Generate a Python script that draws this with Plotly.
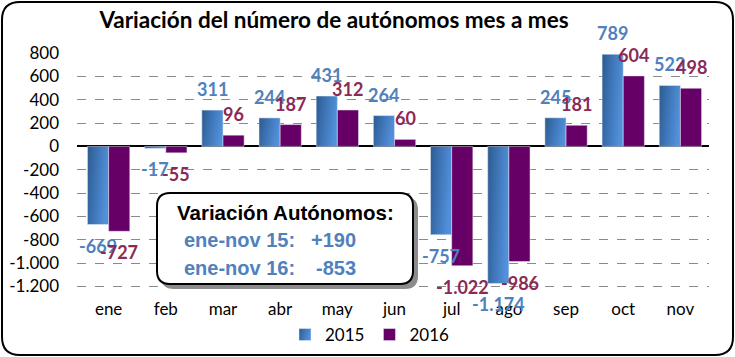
import plotly.graph_objects as go

months = ["ene", "feb", "mar", "abr", "may", "jun", "jul", "ago", "sep", "oct", "nov"]
v2015 = [-669, -17, 311, 244, 431, 264, -757, -1174, 245, 789, 522]
v2016 = [-727, -55, 96, 187, 312, 60, -1022, -986, 181, 604, 498]
y_ticks = [800, 600, 400, 200, 0, -200, -400, -600, -800, -1000, -1200]

def fmt(v):
    s = f"{abs(v):,}".replace(",", ".")
    return ("-" if v < 0 else "") + s

W, H = 735, 357
L, R, T, B = 77, 26, 53, 60
PW, PH = W - L - R, H - T - B

def px(x):
    return (x - L) / PW

def py(y):
    return (H - B - y) / PH

def rrect(x0, y0, x1, y1, r):
    pts = [
        f"M {px(x0 + r)} {py(y0)}",
        f"L {px(x1 - r)} {py(y0)}",
        f"Q {px(x1)} {py(y0)} {px(x1)} {py(y0 + r)}",
        f"L {px(x1)} {py(y1 - r)}",
        f"Q {px(x1)} {py(y1)} {px(x1 - r)} {py(y1)}",
        f"L {px(x0 + r)} {py(y1)}",
        f"Q {px(x0)} {py(y1)} {px(x0)} {py(y1 - r)}",
        f"L {px(x0)} {py(y0 + r)}",
        f"Q {px(x0)} {py(y0)} {px(x0 + r)} {py(y0)}",
        "Z",
    ]
    return " ".join(pts)

BLUE = "#467ec4"
PURPLE = "#660066"
BLUE_TXT = "#4f81bd"
PURPLE_TXT = "#8b2a55"
FONT = "Lato, 'Open Sans', sans-serif"
BOXFONT = "'Liberation Sans', Arial, sans-serif"
BARGAP = 0.26

fig = go.Figure()
fig.add_trace(go.Bar(x=months, y=v2015, name="2015", marker_color=BLUE))
fig.add_trace(go.Bar(x=months, y=v2016, name="2016", marker_color=PURPLE))

# data labels, placed from the data through the axes
slot_px = PW / len(months)
half_bar = slot_px * (1 - BARGAP) / 4
annotations = []
for series, color, sx in ((v2015, BLUE_TXT, -half_bar), (v2016, PURPLE_TXT, half_bar)):
    for m, v in zip(months, series):
        annotations.append(dict(
            x=m, y=v, xref="x", yref="y", text=f"<b>{fmt(v)}</b>", showarrow=False,
            xanchor="center", yanchor="middle", xshift=sx, yshift=21 if v >= 0 else -21,
            font=dict(family=FONT, size=18, color=color),
        ))

shapes = [
    dict(type="path", xref="paper", yref="paper", path=rrect(2, 2, 733, 355, 18),
         line=dict(color="black", width=2), fillcolor="rgba(0,0,0,0)", layer="above"),
    dict(type="path", xref="paper", yref="paper", path=rrect(161, 197, 418, 289, 13),
         line=dict(color="#7f7f7f", width=0), fillcolor="#8c8c8c", layer="above"),
    dict(type="path", xref="paper", yref="paper", path=rrect(157, 193, 413, 284, 13),
         line=dict(color="black", width=2), fillcolor="white", layer="above"),
]

annotations += [
    dict(xref="paper", yref="paper", x=px(175), y=py(212), xanchor="left", yanchor="middle",
         text="<b>Variación Autónomos:</b>", showarrow=False,
         font=dict(family=BOXFONT, size=20.5, color="black")),
    dict(xref="paper", yref="paper", x=px(182), y=py(240), xanchor="left", yanchor="middle",
         text="<b>ene-nov 15:</b>", showarrow=False,
         font=dict(family=BOXFONT, size=20, color=BLUE_TXT)),
    dict(xref="paper", yref="paper", x=px(358), y=py(240), xanchor="right", yanchor="middle",
         text="<b>+190</b>", showarrow=False,
         font=dict(family=BOXFONT, size=20, color=BLUE_TXT)),
    dict(xref="paper", yref="paper", x=px(182), y=py(268), xanchor="left", yanchor="middle",
         text="<b>ene-nov 16:</b>", showarrow=False,
         font=dict(family=BOXFONT, size=20, color=BLUE_TXT)),
    dict(xref="paper", yref="paper", x=px(358), y=py(268), xanchor="right", yanchor="middle",
         text="<b>-853</b>", showarrow=False,
         font=dict(family=BOXFONT, size=20, color=BLUE_TXT)),
]

fig.update_layout(
    width=W, height=H,
    margin=dict(l=L, r=R, t=T, b=B, autoexpand=False),
    paper_bgcolor="white", plot_bgcolor="white",
    separators=",.",
    barmode="group", bargap=BARGAP, bargroupgap=0,
    font=dict(family=FONT, size=17, color="black"),
    title=dict(text="<b>Variación del número de autónomos mes a mes</b>",
               x=334 / W, y=1 - 20 / H, xanchor="center", yanchor="middle",
               font=dict(family=FONT, size=22.5, color="black")),
    legend=dict(orientation="h", xref="container", yref="container",
                x=370 / W, y=1 - 335 / H, xanchor="center", yanchor="middle",
                font=dict(size=17), bgcolor="rgba(0,0,0,0)", itemwidth=30,
                traceorder="normal"),
    xaxis=dict(showgrid=False, showline=False, ticks="", tickfont=dict(size=17),
               automargin=False),
    yaxis=dict(range=[-1290, 800], tickvals=y_ticks, ticktext=[fmt(v) for v in y_ticks],
               showgrid=True, gridcolor="#8a8a8a", griddash="dash", gridwidth=1,
               zeroline=True, zerolinecolor="black", zerolinewidth=1.5,
               showline=False, ticks="", ticklabelstandoff=17, tickfont=dict(size=17),
               automargin=False),
    shapes=shapes,
    annotations=annotations,
)

POST = """
document.body.style.margin='0';
try {
  var gd = document.getElementById('{plot_id}');
  var ns = 'http://www.w3.org/2000/svg';
  var svg = gd.querySelector('svg.main-svg');
  var defs = svg.querySelector('defs') || svg.insertBefore(document.createElementNS(ns, 'defs'), svg.firstChild);
  var lg = document.createElementNS(ns, 'linearGradient');
  lg.setAttribute('id', 'blueGrad2015');
  lg.setAttribute('x1', '0'); lg.setAttribute('y1', '0');
  lg.setAttribute('x2', '1'); lg.setAttribute('y2', '0.25');
  [['0', '#2c5a8f'], ['0.5', '#3f76b8'], ['1', '#5190da']].forEach(function (s) {
    var st = document.createElementNS(ns, 'stop');
    st.setAttribute('offset', s[0]); st.setAttribute('stop-color', s[1]);
    lg.appendChild(st);
  });
  defs.appendChild(lg);
  var tr = gd.querySelectorAll('.barlayer .trace.bars')[0];
  if (tr) tr.querySelectorAll('path').forEach(function (p) { p.style.fill = 'url(#blueGrad2015)'; });
  var lt = gd.querySelectorAll('.legend .traces')[0];
  if (lt) lt.querySelectorAll('.legendpoints path').forEach(function (p) { p.style.fill = 'url(#blueGrad2015)'; });
} catch (e) {}
"""

fig.write_html("out.html", config={"displayModeBar": False}, post_script=POST)
